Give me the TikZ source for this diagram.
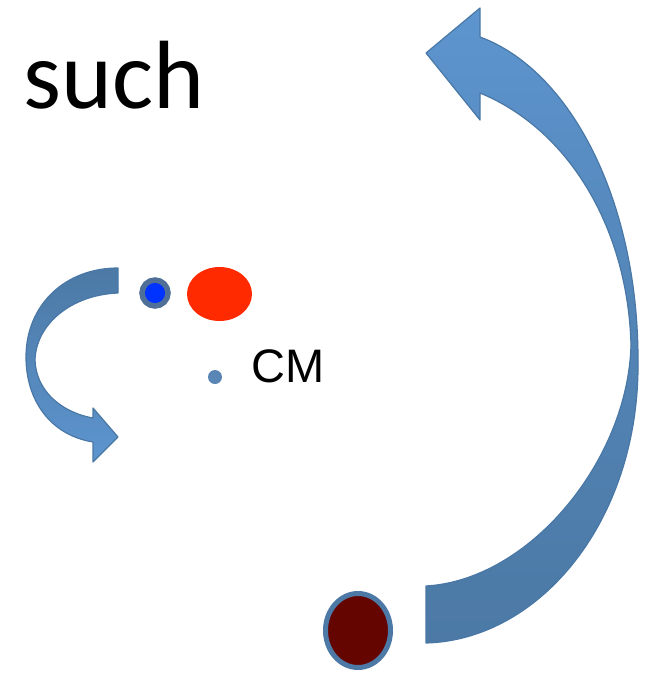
\documentclass[tikz,border=0pt]{standalone}
\usepackage{fontspec}
\usetikzlibrary{shapes.geometric}
\setmainfont{Carlito}
\newfontfamily\arialfont{Liberation Sans}
\definecolor{arrowlight}{HTML}{5D95CF}
\definecolor{arrowdark}{HTML}{4C79A5}
\definecolor{arrowline}{HTML}{4A78A6}
\definecolor{bluedot}{HTML}{0033FF}
\definecolor{ringcol}{HTML}{4F6F99}
\definecolor{reddot}{HTML}{FF2A00}
\definecolor{darkred}{HTML}{650500}
\definecolor{cmdot}{HTML}{5A86B5}
\begin{document}
\begin{tikzpicture}[x=1pt,y=-1pt,
  curvedarrow/.style={draw=arrowline,line width=1.2pt,line join=round},
  ]
\useasboundingbox (0,0) rectangle (662,675);
% title
\node[anchor=base west,inner sep=0pt,font=\fontsize{97}{100}\selectfont] (title) at (23,108) {such};
% big curved arrow
\shadedraw[curvedarrow,top color=arrowlight,bottom color=arrowdark,middle color=arrowdark!60!arrowlight]
  (426,586) -- (426,643)
  .. controls (540,640) and (640,520) .. (638,360)
  .. controls (638,200) and (570,70) .. (480,37)
  -- (480,8) -- (426,53) -- (480,120) -- (480,93)
  .. controls (570,130) and (628,230) .. (631,345)
  .. controls (628,460) and (530,580) .. (426,586) -- cycle;
% small curved arrow
\shadedraw[curvedarrow,top color=arrowdark,bottom color=arrowlight]
  (118,268) -- (118,293)
  .. controls (70,295) and (36,325) .. (35,360)
  .. controls (36,390) and (60,412) .. (93,418)
  -- (93,408) -- (118,437) -- (93,462) -- (93,442)
  .. controls (50,435) and (26,400) .. (26,357)
  .. controls (26,305) and (65,268) .. (118,268) -- cycle;
% bodies
\node[circle,fill=bluedot,draw=ringcol,line width=5.5pt,minimum size=26pt,inner sep=0pt] (blue) at (155,293) {};
\node[ellipse,fill=reddot,minimum width=65pt,minimum height=54pt,inner sep=0pt] (red) at (219.5,294) {};
\node[ellipse,fill=darkred,draw=arrowdark,line width=5pt,minimum width=65pt,minimum height=74pt,inner sep=0pt] (dark) at (358,630.5) {};
\node[circle,fill=cmdot,minimum size=14pt,inner sep=0pt] (cm) at (215,377) {};
\node[anchor=base west,inner sep=0pt,font=\arialfont\fontsize{47}{50}\selectfont] (cmlabel) at (251,382) {CM};
\end{tikzpicture}
\end{document}
